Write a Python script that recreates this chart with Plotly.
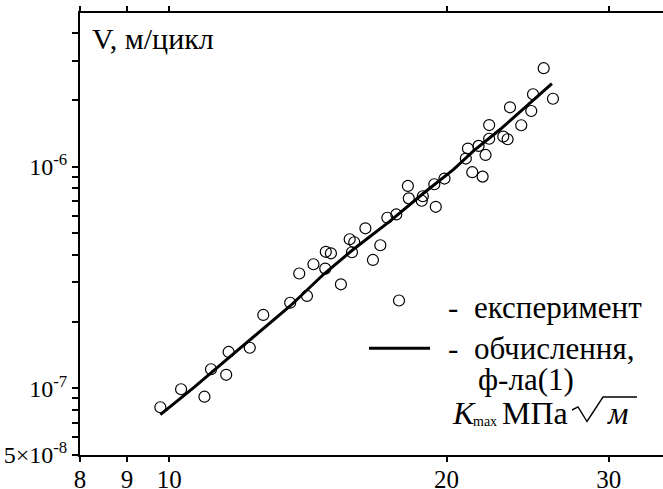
import plotly.graph_objects as go

# Experimental points: K_max (MPa*sqrt(m)) and V (m/cycle)
exp_K = [9.78, 10.30, 10.92, 11.10, 11.53, 11.60, 12.23, 12.65, 13.53, 13.84,
         14.11, 14.34, 14.77, 14.79, 14.98, 15.36, 15.70, 15.88, 15.79, 16.33,
         16.64, 16.95, 17.25, 17.64, 18.20, 18.16, 18.85, 18.80, 19.47, 19.40,
         19.90, 21.33, 21.89, 20.99, 21.10, 21.67, 22.05, 22.25, 22.25, 23.05,
         23.30, 24.11, 23.44, 24.72, 24.83, 26.10, 25.50]
exp_V = [8.21e-8, 9.90e-8, 9.16e-8, 1.218e-7, 1.150e-7, 1.458e-7, 1.523e-7, 2.141e-7, 2.43e-7, 3.294e-7,
         2.608e-7, 3.625e-7, 3.466e-7, 4.127e-7, 4.063e-7, 2.944e-7, 4.70e-7, 4.555e-7, 4.106e-7, 5.267e-7,
         3.791e-7, 4.416e-7, 5.876e-7, 6.08e-7, 7.19e-7, 8.177e-7, 7.345e-7, 7.01e-7, 6.585e-7, 8.32e-7,
         8.83e-7, 9.43e-7, 9.01e-7, 1.087e-6, 1.206e-6, 1.239e-6, 1.128e-6, 1.335e-6, 1.539e-6, 1.366e-6,
         1.328e-6, 1.536e-6, 1.851e-6, 1.781e-6, 2.119e-6, 2.022e-6, 2.777e-6]

# Calculated curve, formula (1)
calc_K = [9.78, 10.63, 11.55, 12.71, 13.53, 14.71, 15.85, 17.38, 18.88, 20.36, 21.40, 22.88, 24.86, 26.03]
calc_V = [7.60e-8, 1.0074e-7, 1.351e-7, 1.878e-7, 2.35e-7, 3.267e-7, 4.236e-7, 5.684e-7, 7.577e-7,
          9.72e-7, 1.176e-6, 1.473e-6, 2.012e-6, 2.368e-6]

x_tickvals = [8, 9, 10, 20, 30]
x_ticktext = ["8", "9", "10", "20", "30"]
y_tickvals = [5e-8, 6e-8, 7e-8, 8e-8, 9e-8,
              1e-7, 2e-7, 3e-7, 4e-7, 5e-7, 6e-7, 7e-7, 8e-7, 9e-7,
              1e-6, 2e-6, 3e-6, 4e-6, 5e-6]
y_ticktext = ["5×10<sup>-8</sup>", "", "", "", "",
              "10<sup>-7</sup>", "", "", "", "", "", "", "", "",
              "10<sup>-6</sup>", "", "", "", ""]

FONT = "Liberation Serif, Times New Roman, DejaVu Serif, serif"

fig = go.Figure()
fig.add_trace(go.Scatter(x=exp_K, y=exp_V, mode="markers",
                         marker=dict(symbol="circle-open", size=11, color="black",
                                     line=dict(width=1.2, color="black")),
                         showlegend=False))
fig.add_trace(go.Scatter(x=calc_K, y=calc_V, mode="lines",
                         line=dict(color="black", width=3), showlegend=False))

W, H = 663, 489
L, T, R, B = 80, 13, 0, 34
pw, ph = W - L - R, H - T - B

def px(xp):
    return (xp - L) / pw

def py(yp):
    return (H - B - yp) / ph

fig.update_layout(
    width=W, height=H,
    margin=dict(l=L, r=R, t=T, b=B, autoexpand=False),
    paper_bgcolor="white", plot_bgcolor="white",
    font=dict(family=FONT, size=24, color="black"),
    xaxis=dict(type="log", range=[0.90309, 0.90309 + pw / 921.0],
               tickvals=x_tickvals, ticktext=x_ticktext,
               ticks="outside", ticklen=5, tickwidth=2, tickcolor="black",
               ticklabelstandoff=-4, automargin=False,
               showline=True, linewidth=2, linecolor="black", mirror="ticks",
               showgrid=False, zeroline=False,
               tickfont=dict(family=FONT, size=25)),
    yaxis=dict(type="log", range=[-7.30103, -7.30103 + ph / 221.7],
               tickvals=y_tickvals, ticktext=y_ticktext,
               ticks="outside", ticklen=6, tickwidth=2, tickcolor="black",
               automargin=False,
               showline=True, linewidth=2, linecolor="black",
               showgrid=False, zeroline=False,
               tickfont=dict(family=FONT, size=24)),
)

# Legend symbols
fig.add_shape(type="circle", xref="paper", yref="paper",
              xsizemode="pixel", ysizemode="pixel",
              xanchor=px(399), yanchor=py(300.5),
              x0=-5.5, x1=5.5, y0=-5.5, y1=5.5,
              line=dict(color="black", width=1.2))
fig.add_shape(type="line", xref="paper", yref="paper",
              x0=px(369), x1=px(430), y0=py(348.3), y1=py(348.3),
              line=dict(color="black", width=3))
# radical sign with overbar
rad = [(572, 410), (578, 407), (587, 421.5), (603, 397), (637, 397)]
path = "M " + " L ".join(f"{px(a):.5f},{py(b):.5f}" for a, b in rad)
fig.add_shape(type="path", xref="paper", yref="paper", path=path,
              line=dict(color="black", width=1.4))

def ann(text, x, y, size=31, xanchor="left"):
    fig.add_annotation(text=text, x=px(x), y=py(y), xref="paper", yref="paper",
                       xanchor=xanchor, yanchor="middle", showarrow=False,
                       font=dict(family=FONT, size=size, color="black"))

ann("V, м/цикл", 90, 38, size=30)
ann("-", 446, 307)
ann("експеримент", 472, 307)
ann("-", 446, 348)
ann("обчислення,", 472, 348)
ann("ф-ла(1)", 476, 379)
ann("<i>K</i>", 450, 413, size=32)
ann("max", 471, 421, size=14)
ann("МПа", 500, 413, size=32)
ann("<i>м</i>", 605, 413, size=32)

fig.write_html("out.html")
